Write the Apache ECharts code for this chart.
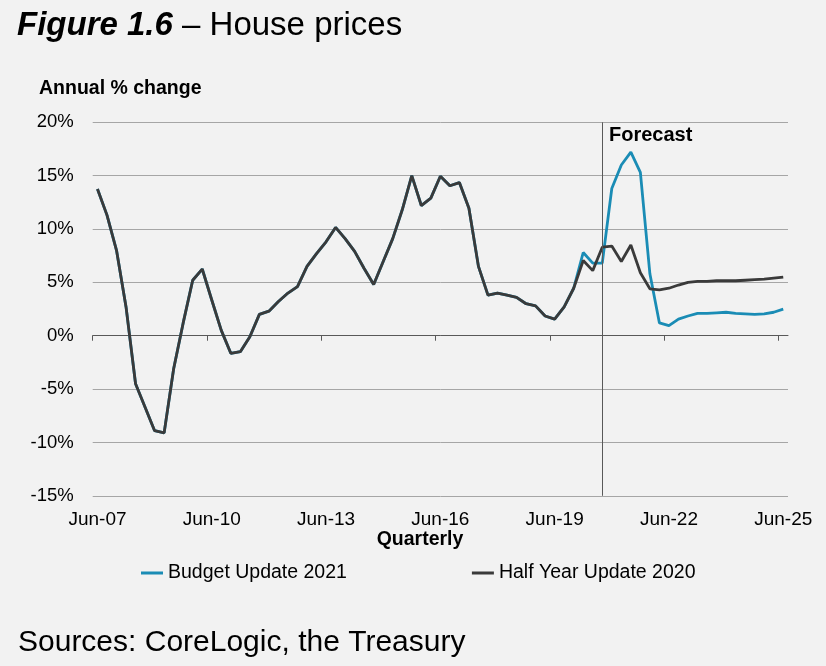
<!DOCTYPE html>
<html>
<head>
<meta charset="utf-8">
<script src="https://cdn.jsdelivr.net/npm/echarts@6/dist/echarts.min.js"></script>
<style>
  html, body { margin: 0; padding: 0; background: #f2f2f2; }
  #chart { width: 826px; height: 666px; }
</style>
</head>
<body>
<div id="chart"></div>
<script>
// Quarterly categories
const categories = [
  'Jun-07','Sep-07','Dec-07',
  'Mar-08','Jun-08','Sep-08','Dec-08',
  'Mar-09','Jun-09','Sep-09','Dec-09',
  'Mar-10','Jun-10','Sep-10','Dec-10',
  'Mar-11','Jun-11','Sep-11','Dec-11',
  'Mar-12','Jun-12','Sep-12','Dec-12',
  'Mar-13','Jun-13','Sep-13','Dec-13',
  'Mar-14','Jun-14','Sep-14','Dec-14',
  'Mar-15','Jun-15','Sep-15','Dec-15',
  'Mar-16','Jun-16','Sep-16','Dec-16',
  'Mar-17','Jun-17','Sep-17','Dec-17',
  'Mar-18','Jun-18','Sep-18','Dec-18',
  'Mar-19','Jun-19','Sep-19','Dec-19',
  'Mar-20','Jun-20','Sep-20','Dec-20',
  'Mar-21','Jun-21','Sep-21','Dec-21',
  'Mar-22','Jun-22','Sep-22','Dec-22',
  'Mar-23','Jun-23','Sep-23','Dec-23',
  'Mar-24','Jun-24','Sep-24','Dec-24',
  'Mar-25','Jun-25'
];

// Shared history (Jun-07 .. Dec-19), annual % change
const sharedHistory = [
  13.75, 11.3, 8.0, 2.7, -4.5, -6.7, -8.9, -9.1, -3.1, 1.2,
  5.2, 6.25, 3.35, 0.5, -1.65, -1.5, -0.1, 2.0, 2.3, 3.2,
  4.0, 4.6, 6.5, 7.7, 8.8, 10.15, 9.1, 7.9, 6.3, 4.8,
  6.95, 9.1, 11.8, 15.0, 12.2, 12.9, 14.95, 14.05, 14.35, 11.95,
  6.5, 3.8, 4.0, 3.8, 3.6, 3.0, 2.8, 1.85, 1.55, 2.7,
  4.45
];

// Mar-20 .. Jun-25
const budgetUpdate2021Tail = [
  7.8, 6.8, 6.8, 13.8, 16.0, 17.2, 15.3, 5.8, 1.2, 0.95,
  1.55, 1.85, 2.1, 2.1, 2.15, 2.2, 2.1, 2.05, 2.0, 2.05,
  2.2, 2.5
];
const halfYearUpdate2020Tail = [
  7.05, 6.1, 8.3, 8.4, 6.95, 8.5, 5.9, 4.4, 4.3, 4.45,
  4.75, 5.0, 5.1, 5.1, 5.15, 5.15, 5.15, 5.2, 5.25, 5.3,
  5.4, 5.5
];

const budgetUpdate2021 = sharedHistory.concat(budgetUpdate2021Tail);
const halfYearUpdate2020 = sharedHistory.concat(halfYearUpdate2020Tail);

const forecastStart = 'Sep-20';
const seriesNames = ['Budget Update 2021', 'Half Year Update 2020'];
const yTicks = { min: -15, max: 20, interval: 5 };

// tick slots at category boundaries for the zero axis
const tickSlots = categories.concat(['']);

const FONT = '"Liberation Sans", Arial, Helvetica, sans-serif';

const chart = echarts.init(document.getElementById('chart'), null, { renderer: 'canvas' });

chart.setOption({
  backgroundColor: '#f2f2f2',
  animation: false,
  color: ['#1a8cb5', '#3a3a3a'],
  textStyle: { fontFamily: FONT },
  grid: {
    left: 92.7, right: 38, top: 122.3, bottom: 170.2,
    containLabel: false, outerBoundsMode: 'none'
  },
  legend: {
    data: seriesNames,
    left: 136, top: 558,
    icon: 'rect', itemWidth: 22, itemHeight: 3, itemGap: 125,
    itemStyle: { borderWidth: 0 },
    textStyle: { fontSize: 19.5, color: '#000', fontFamily: FONT },
    selectedMode: false
  },
  xAxis: [
    {
      type: 'category',
      data: categories,
      boundaryGap: true,
      position: 'bottom',
      axisLine: { show: false, onZero: false },
      axisTick: { show: false },
      splitLine: { show: false },
      axisLabel: {
        interval: 11, margin: 14, fontSize: 19, color: '#000', fontFamily: FONT
      }
    },
    {
      type: 'category',
      data: tickSlots,
      boundaryGap: false,
      position: 'bottom',
      axisLine: { show: true, onZero: true, onZeroAxisIndex: 0, lineStyle: { color: '#595959', width: 1 } },
      axisTick: { show: true, interval: 11, length: 5, inside: false, lineStyle: { color: '#595959', width: 1 } },
      axisLabel: { show: false, showMaxLabel: false, showMinLabel: false },
      splitLine: { show: false }
    }
  ],
  yAxis: {
    type: 'value',
    min: yTicks.min, max: yTicks.max, interval: yTicks.interval,
    axisLine: { show: false },
    axisTick: { show: false },
    axisLabel: { formatter: '{value}%', fontSize: 18.5, color: '#000', margin: 19, fontFamily: FONT },
    splitLine: { show: true, lineStyle: { color: '#a6a6a6', width: 1 } }
  },
  series: [
    {
      name: seriesNames[0],
      type: 'line',
      data: budgetUpdate2021,
      xAxisIndex: 0,
      symbol: 'none',
      showSymbol: false,
      lineStyle: { width: 2.8, color: '#1a8cb5' },
      itemStyle: { color: '#1a8cb5' },
      z: 3
    },
    {
      name: seriesNames[1],
      type: 'line',
      data: halfYearUpdate2020,
      xAxisIndex: 0,
      symbol: 'none',
      showSymbol: false,
      lineStyle: { width: 2.8, color: '#3a3a3a' },
      itemStyle: { color: '#3a3a3a' },
      z: 4,
      markLine: {
        silent: true,
        symbol: ['none', 'none'],
        label: { show: false },
        lineStyle: { color: '#595959', width: 1, type: 'solid' },
        data: [{ xAxis: forecastStart }]
      }
    }
  ],
  graphic: [
    {
      type: 'text',
      style: {
        x: 17, y: 26,
        verticalAlign: 'middle', align: 'left',
        text: '{a|Figure 1.6} {b|– House prices}',
        rich: {
          a: { fontSize: 33, fontWeight: 'bold', fontStyle: 'italic', fontFamily: FONT, fill: '#000' },
          b: { fontSize: 33, fontFamily: FONT, fill: '#000' }
        },
        fontSize: 33, fontFamily: FONT, fill: '#000'
      }
    },
    {
      type: 'text',
      style: {
        x: 39, y: 88.3, verticalAlign: 'middle', align: 'left',
        text: 'Annual % change', fontSize: 19.5, fontWeight: 'bold', fontFamily: FONT, fill: '#000'
      }
    },
    {
      type: 'text',
      style: {
        x: 609, y: 135.7, verticalAlign: 'middle', align: 'left',
        text: 'Forecast', fontSize: 20, fontWeight: 'bold', fontFamily: FONT, fill: '#000'
      },
      z: 10
    },
    {
      type: 'text',
      style: {
        x: 420, y: 540, verticalAlign: 'middle', align: 'center',
        text: 'Quarterly', fontSize: 19.5, fontWeight: 'bold', fontFamily: FONT, fill: '#000'
      }
    },
    {
      type: 'text',
      style: {
        x: 18, y: 642.5, verticalAlign: 'middle', align: 'left',
        text: 'Sources: CoreLogic, the Treasury', fontSize: 30, fontFamily: FONT, fill: '#000'
      }
    }
  ]
});
</script>
</body>
</html>
